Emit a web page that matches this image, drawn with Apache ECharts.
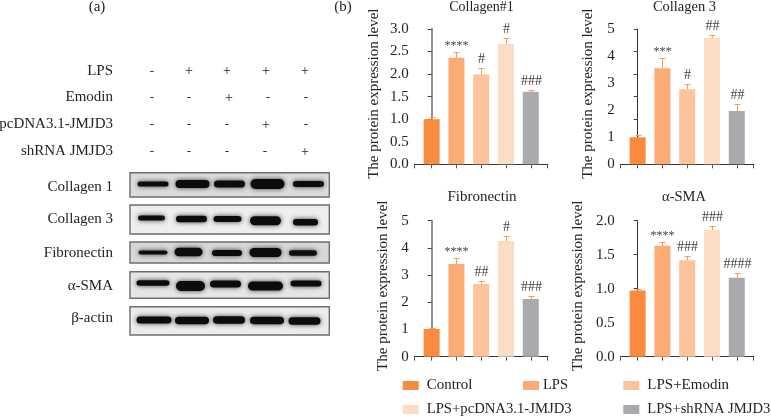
<!DOCTYPE html>
<html><head><meta charset="utf-8">
<style>html,body{margin:0;padding:0;background:#fff}#c{width:771px;height:417px}</style>
<script src="https://cdn.jsdelivr.net/npm/echarts@6/dist/echarts.min.js"></script>
</head><body><div id="c"></div>
<script>
// ---- data ----
const groups = ['Control','LPS','LPS+Emodin','LPS+pcDNA3.1-JMJD3','LPS+shRNA JMJD3'];
const panelTitles = ['Collagen#1','Collagen 3','Fibronectin','α-SMA'];
const collagen1Values = [1.0,2.36,1.99,2.67,1.61];
const collagen1Errors = [1.04,2.48,2.13,2.79,1.65];
const collagen1Marks = ['','****','#','#','###'];
const collagen3Values = [1.0,3.55,2.77,4.67,1.97];
const collagen3Errors = [1.07,3.92,2.96,4.77,2.22];
const collagen3Marks = ['','***','#','##','##'];
const fibronectinValues = [1.02,3.41,2.67,4.25,2.12];
const fibronectinErrors = [1.05,3.64,2.77,4.45,2.23];
const fibronectinMarks = ['','****','##','#','###'];
const smaValues = [0.975,1.63,1.42,1.86,1.16];
const smaErrors = [1.0,1.69,1.475,1.92,1.225];
const smaMarks = ['','****','###','###','####'];
const treatments = ['LPS','Emodin','pcDNA3.1-JMJD3','shRNA JMJD3'];
const lpsSigns = ['-','+','+','+','+'];
const emodinSigns = ['-','-','+','-','-'];
const pcdnaSigns = ['-','-','-','+','-'];
const shrnaSigns = ['-','-','-','-','+'];
const blotNames = ['Collagen 1','Collagen 3','Fibronectin','α-SMA','β-actin'];
const collagen1Bands = [5,8,7,10,6];
const collagen3Bands = [5,6.5,6,9,6.5];
const fibronectinBands = [4,8.5,6,9,5.5];
const smaBands = [5.5,10,7,9,6];
const actinBands = [7,7.5,7.5,7.5,7.5];

// ---- styling and layout ----
const FONT = '"Liberation Serif", serif';
const INK = '#262324';
const colors = ['#F88B3D','#FBAB74','#FBC49C','#FDDCC6','#A8AAAD'];
const errColor = '#F59C58';
const panels = [
 {v:collagen1Values,e:collagen1Errors,m:collagen1Marks,max:3,step:0.5,fmt:1,left:414.7,top:29,h:135.3,axis:'#8f8f8f',aw:2,gap:33,titleX:481.5,titleY:7,titleSize:14},
 {v:collagen3Values,e:collagen3Errors,m:collagen3Marks,max:5,step:1,fmt:0,left:620.7,top:29,h:135.3,axis:'#333',aw:1,gap:25,titleX:684.5,titleY:7,titleSize:14.5,ticks:[0,5/6,10/6,15/6,20/6,25/6,5]},
 {v:fibronectinValues,e:fibronectinErrors,m:fibronectinMarks,max:5,step:1,fmt:0,left:414.7,top:220.7,h:136,axis:'#8f8f8f',aw:2,gap:24,titleX:482,titleY:197,titleSize:15},
 {v:smaValues,e:smaErrors,m:smaMarks,max:2,step:0.5,fmt:1,left:620.7,top:220.7,h:136,axis:'#333',aw:1,gap:35,titleX:684,titleY:197,titleSize:14.5}
];
const panelWidth = 133;
const endPad = 0.683;
const xTicks = [-endPad,0,1,2,3,4,4+endPad];

const grid=[],xAxis=[],yAxis=[],series=[],title=[];
panels.forEach((p,k)=>{
  grid.push({left:p.left,top:p.top,width:panelWidth,height:p.h,containLabel:false});
  xAxis.push({gridIndex:k,type:'value',min:-endPad,max:4+endPad,splitLine:{show:false},
    axisLine:{show:true,onZero:false,lineStyle:{color:'#333',width:1}},
    axisTick:{show:true,length:4,lineStyle:{color:'#555',width:1},customValues:xTicks},
    axisLabel:{show:false}});
  yAxis.push({gridIndex:k,type:'value',min:0,max:p.max,interval:p.step,splitLine:{show:false},
    name:'The protein expression level',nameLocation:'middle',nameGap:p.gap,
    nameTextStyle:{fontFamily:FONT,fontSize:15,color:INK,padding:[0,0,0,6]},
    axisLine:{show:true,lineStyle:{color:p.axis,width:p.aw}},
    axisTick:Object.assign({show:true,length:4,lineStyle:{color:'#444',width:1}},p.ticks?{customValues:p.ticks}:{}),
    axisLabel:{fontFamily:FONT,fontSize:15,color:INK,margin:6,formatter:v=>v.toFixed(p.fmt)}});
  title.push({text:panelTitles[k],left:p.titleX,top:p.titleY,textAlign:'center',textVerticalAlign:'middle',padding:0,
    textStyle:{fontFamily:FONT,fontSize:p.titleSize,fontWeight:'normal',color:INK}});
  groups.forEach((g,i)=>{
    series.push({type:'bar',name:g,xAxisIndex:k,yAxisIndex:k,stack:'s'+k,barWidth:16,
      itemStyle:{color:colors[i]},silent:true,animation:false,data:[[i,p.v[i]]]});
  });
  series.push({type:'custom',name:'err'+k,xAxisIndex:k,yAxisIndex:k,clip:false,silent:true,animation:false,z:5,
    data:p.v.map((v,i)=>[i,v,p.e[i]]),
    renderItem:(params,api)=>{
      const a=api.coord([api.value(0),api.value(1)]), b=api.coord([api.value(0),api.value(2)]);
      const x=Math.round(a[0])+0.5, yb=Math.round(a[1]), yt=Math.round(b[1])+0.5;
      const m=p.m[params.dataIndex];
      const star=m.indexOf('*')>=0;
      const line={stroke:errColor,lineWidth:1};
      return {type:'group',children:[
        {type:'line',shape:{x1:x,y1:yb,x2:x,y2:yt},style:line},
        {type:'line',shape:{x1:x-3,y1:yt,x2:x+3,y2:yt},style:line},
        {type:'text',style:{text:m,x:x,y:yt-(star?1:2),textAlign:'center',textVerticalAlign:'bottom',
          font:(star?'12px ':'14px ')+FONT,fill:'#3f3f3f'}}
      ]};
    }});
});

// legend
const legendPos=[[402.7,378,3,15],[523,378,-1,14.5],[623.3,378,3,15],[402.7,402,3,14.7],[623.3,402,3,14.6]];
const legend=groups.map((g,i)=>({data:[g],left:legendPos[i][0],top:legendPos[i][1],padding:0,
  itemWidth:16,itemHeight:9,icon:'rect',selectedMode:false,
  textStyle:{fontFamily:FONT,fontSize:legendPos[i][3],color:INK,padding:[0,0,0,legendPos[i][2]]}}));

// left panel
const g=[];
const txt=(s,x,y,a,size)=>g.push({type:'text',silent:true,x:x,y:y,style:{text:s,textAlign:a,textVerticalAlign:'middle',font:(size||15)+'px '+FONT,fill:INK}});
txt('(a)',97,7,'center');
txt('(b)',343,7,'center');
const signRows=[lpsSigns,emodinSigns,pcdnaSigns,shrnaSigns];
const signY=[71.5,98,125,152];
const labelY=[71,97.5,124.5,151];
const signX=[[152,189,227,266,305],[152,189,229,268,306],[152,189,227,266,306],[152,189,227,265,305]];
treatments.forEach((t,r)=>{
  txt(t,113,labelY[r],'right');
  signRows[r].forEach((s,c)=>txt(s,signX[r][c],signY[r],'center',s==='+'?14:13));
});
const frames=[[172.7,197,'#dcdcdc'],[205,234,'#eeeeee'],[242,263,'#d8d8d8'],[271.7,298.3,'#e6e6e6'],[306.7,335,'#ececec']];
const bandRows=[collagen1Bands,collagen3Bands,fibronectinBands,smaBands,actinBands];
const bandY=[[184,184,184,184,184],[218,219,219,220.7,222.3],[252.5,252,253,252.5,253],[283,286,284,286,283.5],[320,320.5,320,320.5,321]];
const bandX=[[153,192.5,229.5,267.5,308.5],[151.5,191.5,227.5,265.5,305.5],[153,188.5,227,265.5,303],[153,190.5,225.5,265.5,306],[154,192,229,267,304.5]];
const bandW=[[31,34,31,34,31],[27,31,28,31,25],[29,28,30,32,28],[33,29,31,35,31],[35,34,32,34,32]];
blotNames.forEach((n,r)=>{
  txt(n,113,[186.7,219.5,252.7,286,318.5][r],'right');
  g.push({type:'rect',silent:true,z:1,shape:{x:130,y:frames[r][0],width:199.3,height:frames[r][1]-frames[r][0]},
    style:{fill:frames[r][2],stroke:'#6e6e6e',lineWidth:1.4}});
  bandRows[r].forEach((h,c)=>{
    const w=bandW[r][c];
    g.push({type:'rect',silent:true,z:2,shape:{x:bandX[r][c]-w/2,y:bandY[r][c]-h/2,width:w,height:h,r:h/2},
      style:{fill:'#0c0c0c',shadowBlur:5,shadowColor:'rgba(0,0,0,0.75)'}});
  });
});

const chart=echarts.init(document.getElementById('c'),null,{renderer:'canvas'});
chart.setOption({animation:false,backgroundColor:'#fff',title,legend,grid,xAxis,yAxis,series,graphic:{elements:g}});
</script></body></html>
